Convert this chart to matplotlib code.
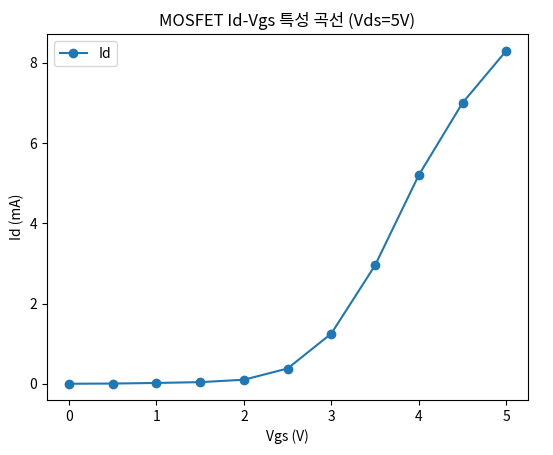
import matplotlib
matplotlib.use("Agg")
import matplotlib.pyplot as plt

plt.rcParams['font.family'] = ['Noto Sans CJK KR', 'DejaVu Sans']

vgs = [0, 0.5, 1, 1.5, 2, 2.5, 3, 3.5, 4, 4.5, 5]
id_ma = [0.0, 0.005, 0.02, 0.04, 0.1, 0.38, 1.25, 2.95, 5.2, 7.0, 8.3]

fig, ax = plt.subplots(figsize=(5.53, 4.55), dpi=100)
ax.plot(vgs, id_ma, marker='o', label='Id')
ax.set_title('MOSFET Id-Vgs 특성 곡선 (Vds=5V)')
ax.set_xlabel('Vgs (V)')
ax.set_ylabel('Id (mA)')
ax.legend(loc='upper left')
fig.subplots_adjust(left=0.085, right=0.955, top=0.925, bottom=0.12)
fig.savefig('out.png', dpi=100)
